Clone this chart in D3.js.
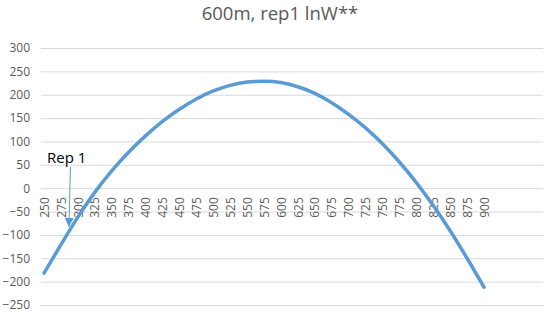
<!DOCTYPE html>
<html>
<head>
<meta charset="utf-8">
<script src="https://cdn.jsdelivr.net/npm/d3@7"></script>
<style>
  body { margin: 0; background: #fff; }
  text { font-family: "Open Sans", sans-serif; }
</style>
</head>
<body>
<div id="chart"></div>
<script>
// Chart data
var title = '600m, rep1 lnW**';
var categories = ['250','275','300','325','350','375','400','425','450','475','500','525','550',
                  '575','600','625','650','675','700','725','750','775','800','825','850','875','900'];
var rep1 = [-182, -121, -62, -9, 37, 77, 112, 143, 169, 191, 208, 220, 227,
            229, 226, 217, 203, 183, 158, 129, 95, 56, 12, -37, -91, -150, -212];
var yTicks = [-250, -200, -150, -100, -50, 0, 50, 100, 150, 200, 250, 300];
var annotation = { label: 'Rep 1', category: '275' };

var width = 550, height = 320;

var svg = d3.select('#chart')
            .append('svg')
            .attr('width', width)
            .attr('height', height);

// Scales
var x = d3.scalePoint()
          .domain(categories)
          .range([44, 484]);

var y = d3.scaleLinear()
          .domain([-250, 300])
          .range([305, 48]);

var gridLeft = 41, gridRight = 543;

// Title
svg.append('text')
   .attr('x', 280)
   .attr('y', 20)
   .attr('text-anchor', 'middle')
   .attr('font-size', 18.5)
   .attr('fill', '#595959')
   .text(title);

// Horizontal gridlines
svg.append('g')
   .selectAll('line')
   .data(yTicks)
   .enter().append('line')
   .attr('x1', gridLeft)
   .attr('x2', gridRight)
   .attr('y1', function(d) { return y(d) + 0.5; })
   .attr('y2', function(d) { return y(d) + 0.5; })
   .attr('stroke', '#d9d9d9')
   .attr('stroke-width', 1);

// y-axis labels
var y_axis = d3.axisLeft(y)
               .tickValues(yTicks)
               .tickSize(0)
               .tickPadding(0);

var gy = svg.append('g')
            .attr('transform', 'translate(30,0)')
            .call(y_axis);
gy.select('.domain').remove();
gy.selectAll('text')
  .attr('font-family', '"Open Sans", sans-serif')
  .attr('font-size', 12)
  .attr('fill', '#595959');

// x-axis labels, rotated, hanging just under the zero line
var x_axis = d3.axisBottom(x)
               .tickSize(0)
               .tickPadding(0);

var gx = svg.append('g')
            .attr('transform', 'translate(0,' + y(0) + ')')
            .call(x_axis);
gx.select('.domain').remove();
gx.selectAll('text')
  .attr('font-family', '"Open Sans", sans-serif')
  .attr('font-size', 12)
  .attr('fill', '#595959')
  .attr('transform', 'rotate(-90)')
  .attr('text-anchor', 'end')
  .attr('x', -9)
  .attr('y', 0)
  .attr('dy', '0.35em');

// Line
var line = d3.line()
             .curve(d3.curveMonotoneX)
             .x(function(d, i) { return x(categories[i]); })
             .y(function(d) { return y(d); });

svg.append('path')
   .attr('d', line(rep1))
   .attr('fill', 'none')
   .attr('stroke', '#5b9bd5')
   .attr('stroke-width', 3.5)
   .attr('stroke-linejoin', 'round')
   .attr('stroke-linecap', 'round');

// Annotation with arrow
var ax = x(annotation.category) + 8;
svg.append('defs')
   .append('marker')
   .attr('id', 'arrow')
   .attr('viewBox', '0 0 10 10')
   .attr('refX', 10)
   .attr('refY', 5)
   .attr('markerWidth', 9)
   .attr('markerHeight', 9)
   .attr('markerUnits', 'userSpaceOnUse')
   .attr('orient', 'auto')
   .append('path')
   .attr('d', 'M0,0L10,5L0,10Z')
   .attr('fill', '#5b9bd5');

svg.append('line')
   .attr('x1', ax + 1.5)
   .attr('y1', 167)
   .attr('x2', ax)
   .attr('y2', 227)
   .attr('stroke', '#5b9bd5')
   .attr('stroke-width', 1)
   .attr('marker-end', 'url(#arrow)');

svg.append('text')
   .attr('x', 47)
   .attr('y', 163)
   .attr('font-size', 15)
   .attr('fill', '#000')
   .text(annotation.label);
</script>
</body>
</html>
